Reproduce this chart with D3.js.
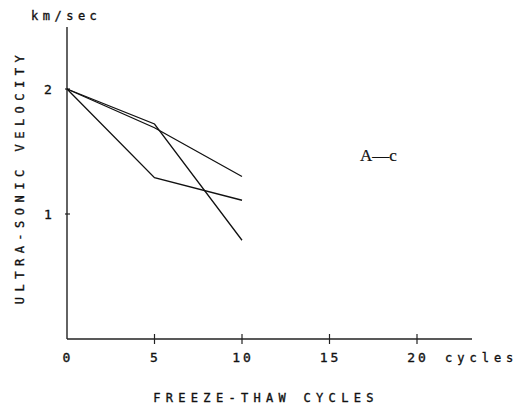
<!DOCTYPE html>
<html>
<head>
<meta charset="utf-8">
<script src="https://cdn.jsdelivr.net/npm/d3@7"></script>
<style>
  body { margin: 0; background: #fff; }
  text { font-family: "DejaVu Sans Mono", "Liberation Mono", monospace; fill: #111; stroke: #111; stroke-width: 0.35px; }
</style>
</head>
<body>
<script>
// data
var cycles = [0, 5, 10];
var seriesA = [2.0, 1.69, 1.30];
var seriesB = [2.0, 1.72, 0.79];
var seriesC = [2.0, 1.29, 1.11];
var xTicks = [0, 5, 10, 15, 20];
var yTicks = [1, 2];

var width = 525, height = 407;
var svg = d3.select('body').append('svg')
    .attr('width', width)
    .attr('height', height);

var x = d3.scaleLinear().domain([0, 20]).range([67, 417]);
var y = d3.scaleLinear().domain([0, 2]).range([339, 89]);

// axes drawn by hand to mimic the plotter look
svg.append('line')
    .attr('x1', x(0)).attr('x2', x(0))
    .attr('y1', 27).attr('y2', y(0))
    .attr('stroke', '#222').attr('stroke-width', 1.4);
svg.append('line')
    .attr('x1', x(0)).attr('x2', 472)
    .attr('y1', y(0)).attr('y2', y(0))
    .attr('stroke', '#222').attr('stroke-width', 1.6);

// x ticks (crosses) and labels
svg.selectAll('.xtick').data(xTicks.filter(function (d) { return d > 0; }))
    .enter().append('line')
    .attr('class', 'xtick')
    .attr('x1', function (d) { return x(d); })
    .attr('x2', function (d) { return x(d); })
    .attr('y1', y(0) - 5).attr('y2', y(0) + 5)
    .attr('stroke', '#222').attr('stroke-width', 1.2);

svg.selectAll('.xlab').data(xTicks)
    .enter().append('text')
    .attr('class', 'xlab')
    .attr('x', function (d) { return x(d) + 1; })
    .attr('y', 362)
    .attr('text-anchor', 'middle')
    .style('font-size', '13px')
    .style('letter-spacing', '3px')
    .text(function (d) { return d; });

svg.append('text')
    .attr('x', 445).attr('y', 362)
    .style('font-size', '12px')
    .style('letter-spacing', '5px')
    .text('cycles');

// y ticks and labels
svg.selectAll('.ytick').data(yTicks)
    .enter().append('line')
    .attr('class', 'ytick')
    .attr('x1', x(0) - 2).attr('x2', x(0) + 3)
    .attr('y1', function (d) { return y(d); })
    .attr('y2', function (d) { return y(d); })
    .attr('stroke', '#222').attr('stroke-width', 1.2);

svg.selectAll('.ylab').data(yTicks)
    .enter().append('text')
    .attr('class', 'ylab')
    .attr('x', 48)
    .attr('y', function (d) { return y(d) + 5; })
    .attr('text-anchor', 'middle')
    .style('font-size', '13px')
    .text(function (d) { return d; });

svg.append('text')
    .attr('x', 31).attr('y', 20)
    .style('font-size', '12px')
    .style('letter-spacing', '4.5px')
    .text('km/sec');

svg.append('text')
    .attr('transform', 'translate(24,177) rotate(-90)')
    .attr('text-anchor', 'middle')
    .style('font-size', '12px')
    .style('letter-spacing', '5.5px')
    .text('ULTRA-SONIC VELOCITY');

svg.append('text')
    .attr('x', 266).attr('y', 402)
    .attr('text-anchor', 'middle')
    .style('font-size', '12px')
    .style('letter-spacing', '5.3px')
    .text('FREEZE-THAW CYCLES');

svg.append('text')
    .attr('x', 360).attr('y', 161)
    .style('font-family', '"Liberation Serif", "DejaVu Serif", serif')
    .style('font-size', '17px')
    .style('stroke-width', '0.2px')
    .text('A\u2014c');

// series lines
var line = d3.line()
    .x(function (d, i) { return x(cycles[i]); })
    .y(function (d) { return y(d); });

[seriesA, seriesB, seriesC].forEach(function (s) {
    svg.append('path')
        .datum(s)
        .attr('d', line)
        .attr('fill', 'none')
        .attr('stroke', '#111')
        .attr('stroke-width', 1.3);
});
</script>
</body>
</html>
